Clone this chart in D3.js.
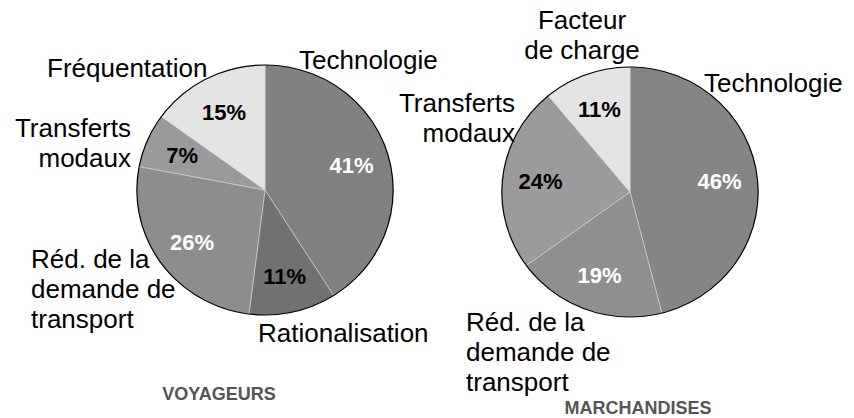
<!DOCTYPE html>
<html>
<head>
<meta charset="utf-8">
<script src="https://cdn.jsdelivr.net/npm/d3@7"></script>
<style>
  body { margin: 0; background: #fff; }
  svg { display: block; font-family: "Liberation Sans", Arial, sans-serif; }
</style>
</head>
<body>
<div id="chart"></div>
<script>
// data
var voyLabels = ["Technologie", "Rationalisation", "Réd. de la demande de transport", "Transferts modaux", "Fréquentation"];
var voyValues = [41, 11, 26, 7, 15];
var marLabels = ["Technologie", "Réd. de la demande de transport", "Transferts modaux", "Facteur de charge"];
var marValues = [46, 19, 24, 11];
var titles = ["VOYAGEURS", "MARCHANDISES"];

var svg = d3.select("#chart").append("svg").attr("width", 854).attr("height", 418);

var r = 125;
var pie = d3.pie().sort(null).value(function(d) { return d; });
var arc = d3.arc().innerRadius(0).outerRadius(r);
var labelArc = d3.arc().innerRadius(88).outerRadius(88);

// layout for each chart
var charts = [
  {
    values: voyValues, labels: voyLabels, title: titles[0],
    cx: 265, cy: 190, titleX: 219, titleY: 400,
    fills: ["#818181", "#717171", "#8d8d8d", "#9a9a9a", "#e4e4e4"],
    pctFill: ["#fff", "#000", "#fff", "#000", "#000"],
    // name label blocks: x, y of first line, anchor, line splits
    names: [
      {x: 299, y: 69, anchor: "start", lines: ["Technologie"]},
      {x: 258, y: 342, anchor: "start", lines: ["Rationalisation"]},
      {x: 31, y: 268, anchor: "start", lines: ["Réd. de la", "demande de", "transport"]},
      {x: 131, y: 137, anchor: "end", lines: ["Transferts", "modaux"]},
      {x: 47, y: 77, anchor: "start", lines: ["Fréquentation"]}
    ]
  },
  {
    values: marValues, labels: marLabels, title: titles[1],
    cx: 630, cy: 192, titleX: 638, titleY: 414,
    fills: ["#858585", "#8f8f8f", "#9b9b9b", "#e4e4e4"],
    pctFill: ["#fff", "#fff", "#000", "#000"],
    names: [
      {x: 704, y: 92, anchor: "start", lines: ["Technologie"]},
      {x: 466, y: 331, anchor: "start", lines: ["Réd. de la", "demande de", "transport"]},
      {x: 515, y: 112, anchor: "end", lines: ["Transferts", "modaux"]},
      {x: 582, y: 29, anchor: "middle", lines: ["Facteur", "de charge"]}
    ]
  }
];

charts.forEach(function(c) {
  var arcs = pie(c.values);
  var g = svg.append("g")
    .attr("transform", "translate(" + c.cx + "," + c.cy + ") scale(1.025,1)");

  g.selectAll("path.slice")
    .data(arcs)
    .enter().append("path")
    .attr("class", "slice")
    .attr("d", arc)
    .attr("fill", function(d, i) { return c.fills[i]; })
    .attr("stroke", "#d4d4d4")
    .attr("stroke-width", 0.6);

  g.append("circle")
    .attr("r", r)
    .attr("fill", "none")
    .attr("stroke", "#000")
    .attr("stroke-width", 1.2);

  // percentage labels
  svg.selectAll(null)
    .data(arcs)
    .enter().append("text")
    .attr("x", function(d) { return c.cx + labelArc.centroid(d)[0] * 1.025; })
    .attr("y", function(d) { return c.cy + labelArc.centroid(d)[1]; })
    .attr("dy", "0.36em")
    .attr("text-anchor", "middle")
    .attr("font-size", "22px")
    .attr("font-weight", "bold")
    .attr("fill", function(d, i) { return c.pctFill[i]; })
    .text(function(d) { return d.data + "%"; });

  // category names
  c.names.forEach(function(n) {
    var t = svg.append("text")
      .attr("x", n.x)
      .attr("y", n.y)
      .attr("text-anchor", n.anchor)
      .attr("font-size", "26px")
      .attr("fill", "#000");
    n.lines.forEach(function(line, j) {
      t.append("tspan")
        .attr("x", n.x)
        .attr("dy", j === 0 ? 0 : 30)
        .text(line);
    });
  });

  svg.append("text")
    .attr("x", c.titleX)
    .attr("y", c.titleY)
    .attr("text-anchor", "middle")
    .attr("font-size", "18px")
    .attr("font-weight", "bold")
    .attr("fill", "#555")
    .text(c.title);
});
</script>
</body>
</html>
